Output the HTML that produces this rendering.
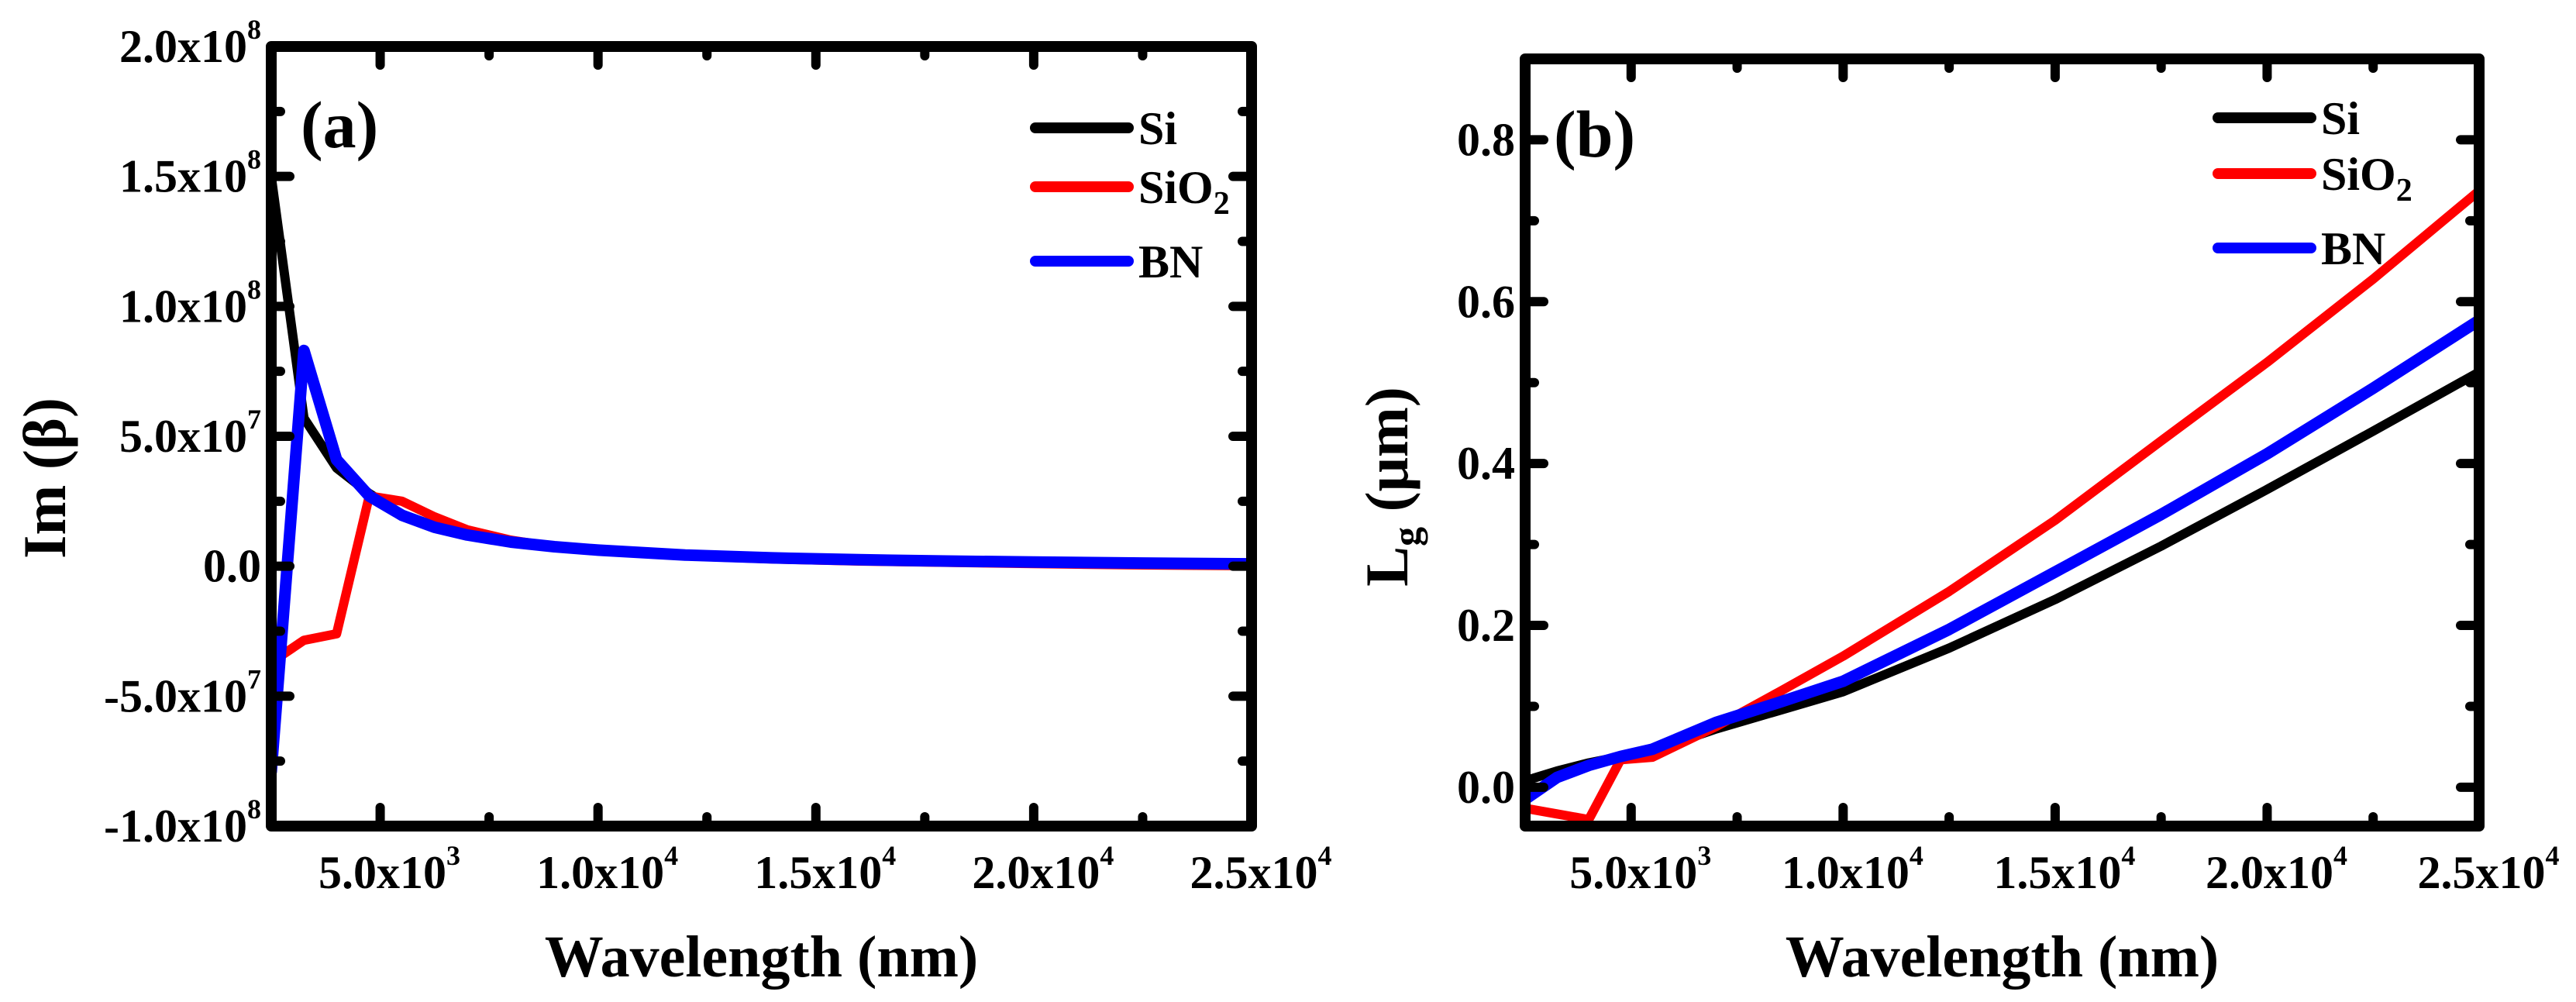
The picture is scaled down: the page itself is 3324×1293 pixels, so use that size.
<!DOCTYPE html>
<html><head><meta charset="utf-8">
<style>
html,body{margin:0;padding:0;background:#fff;}
svg, svg text, svg tspan{font-family:"Liberation Serif","Times New Roman","DejaVu Serif",serif;font-weight:bold;}
</style></head>
<body>
<svg id="chart" width="3324" height="1288" viewBox="0 0 3324 1288" xmlns="http://www.w3.org/2000/svg" font-family="Liberation Serif, serif" font-weight="bold"></svg>
<script>
// ---- Panel (a) data: Im(beta) vs wavelength ----
const aWavelength = [2500,3250,4000,4750,5500,6250,7000,8000,9000,10000,12000,14000,16000,18000,20000,22500,25000];
const aSi   = [150e6,57e6,37.8e6,28e6,20e6,15.5e6,12e6,9.5e6,7.8e6,6.5e6,4.6e6,3.5e6,2.8e6,2.3e6,1.9e6,1.5e6,1.2e6];
const aSiO2 = [-37e6,-28.5e6,-26e6,27e6,25e6,19e6,14e6,10e6,7.5e6,6e6,4e6,2.8e6,2e6,1.5e6,1e6,0.5e6,0.2e6];
const aBN   = [-79e6,83e6,41e6,27e6,19.6e6,15e6,12e6,9.3e6,7.5e6,6.2e6,4.3e6,3.2e6,2.5e6,2.0e6,1.6e6,1.2e6,0.9e6];
const aYTicks = [-1e8,-5e7,0,5e7,1e8,1.5e8,2e8];
const aYTickLabels = [["-1.0x10","8"],["-5.0x10","7"],["0.0",""],["5.0x10","7"],["1.0x10","8"],["1.5x10","8"],["2.0x10","8"]];
// ---- Panel (b) data: Lg vs wavelength ----
const bWavelength = [2500,3250,4000,4750,5500,7000,8500,10000,12500,15000,17500,20000,22500,25000];
const bSi   = [0.008,0.02,0.03,0.038,0.045,0.072,0.095,0.118,0.172,0.232,0.298,0.368,0.44,0.513];
const bSiO2 = [-0.026,-0.033,-0.04,0.034,0.037,0.075,0.118,0.162,0.242,0.33,0.428,0.525,0.628,0.737];
const bBN   = [-0.015,0.012,0.027,0.038,0.047,0.08,0.105,0.131,0.195,0.266,0.337,0.412,0.493,0.577];
const bYTicks = [0,0.2,0.4,0.6,0.8];
const bYTickLabels = ["0.0","0.2","0.4","0.6","0.8"];
// shared x ticks
const xTicks = [5000,10000,15000,20000,25000];
const xTickLabels = [["5.0x10","3"],["1.0x10","4"],["1.5x10","4"],["2.0x10","4"],["2.5x10","4"]];
const seriesNames = ["Si","SiO2","BN"];
const seriesColors = ["#000000","#ff0000","#0000ff"];

const NS="http://www.w3.org/2000/svg";
const svg=document.getElementById('chart');
function mk(tag,attrs,parent){const e=document.createElementNS(NS,tag);for(const k in attrs)e.setAttribute(k,attrs[k]);if(tag==='text'){e.setAttribute('font-family','Liberation Serif, Times New Roman, serif');e.setAttribute('font-weight','bold');}(parent||svg).appendChild(e);return e;}

function panel(cfg){
  const g=mk('g',{});
  
  
  const X=v=>cfg.x0+(v-cfg.xmin)/(cfg.xmax-cfg.xmin)*(cfg.x1-cfg.x0);
  const Y=v=>cfg.y1-(v-cfg.ymin)/(cfg.ymax-cfg.ymin)*(cfg.y1-cfg.y0);
  const cid='clip-'+cfg.name;
  const cp=mk('clipPath',{id:cid},g);
  mk('rect',{x:cfg.x0,y:cfg.y0,width:cfg.x1-cfg.x0,height:cfg.y1-cfg.y0},cp);
  const sg=mk('g',{'clip-path':'url(#'+cid+')'},g);
  cfg.series.forEach((s,i)=>{
    const d=s.map((v,j)=>(j?'L':'M')+X(cfg.xs[j]).toFixed(1)+','+Y(v).toFixed(1)).join(' ');
    const p=mk('path',{d:d,fill:'none',stroke:seriesColors[i],'stroke-width':i==2?15:12,'stroke-linejoin':'round','stroke-linecap':'round'},sg);
    
    
  });
  const tg=mk('g',{stroke:'#000','stroke-width':12,'stroke-linecap':'round'},g);
  for(let v=cfg.xmin;v<=cfg.xmax+1;v+=2500){
    if(v<=cfg.xmin+1)continue;
    const major=(v%5000===0);const L=major?24:12;
    mk('line',{x1:X(v),y1:cfg.y1,x2:X(v),y2:cfg.y1-L},tg);
    mk('line',{x1:X(v),y1:cfg.y0,x2:X(v),y2:cfg.y0+L},tg);
  }
  for(let k=0;;k++){
    const v=cfg.yfirst+k*cfg.ystep/2; if(v>cfg.ymax+1e-9)break; if(v<cfg.ymin)continue;
    const major=(k%2===0);const L=major?24:12;
    mk('line',{x1:cfg.x0,y1:Y(v),x2:cfg.x0+L,y2:Y(v)},tg);
    mk('line',{x1:cfg.x1,y1:Y(v),x2:cfg.x1-L,y2:Y(v)},tg);
  }
  const fr=mk('rect',{x:cfg.x0,y:cfg.y0,width:cfg.x1-cfg.x0,height:cfg.y1-cfg.y0,fill:'none',stroke:'#000','stroke-width':14,'stroke-linejoin':'round'},g);
  
  
  xTicks.forEach((v,i)=>{
    const t=mk('text',{x:X(v)+12,y:1146,'font-size':60,'text-anchor':'middle'},g);
    
    
    t.appendChild(document.createTextNode(xTickLabels[i][0]));
    const s=mk('tspan',{'font-size':36,dy:-30},t);s.textContent=xTickLabels[i][1];
  });
  cfg.yticks.forEach((v,i)=>{
    const lab=cfg.ylabels[i];
    const t=mk('text',{x:cfg.x0-13,y:Y(v)+20,'font-size':60,'text-anchor':'end'},g);
    
    
    if(Array.isArray(lab)){
      t.appendChild(document.createTextNode(lab[0]));
      if(lab[1]){const s=mk('tspan',{'font-size':36,dy:-30},t);s.textContent=lab[1];}
    } else t.textContent=lab;
  });
  const xt=mk('text',{x:(cfg.x0+cfg.x1)/2,y:1260,'font-size':76,'text-anchor':'middle'},g);
  
  
  xt.textContent='Wavelength (nm)';
  const yt=mk('text',{x:0,y:0,'font-size':78,'text-anchor':'middle',transform:'translate('+(cfg.ytx+26)+','+cfg.yty+') rotate(-90)'},g);
  
  
  cfg.ytitle(yt);
  const pl=mk('text',{x:cfg.lx,y:cfg.ly,'font-size':86},g);
  
  
  pl.textContent=cfg.label;
  cfg.legY.forEach((ly,i)=>{
    const lg=mk('g',{},g);
    
    
    mk('line',{x1:cfg.legX,y1:ly,x2:cfg.legX+120,y2:ly,stroke:seriesColors[i],'stroke-width':14,'stroke-linecap':'round'},lg);
    const t=mk('text',{x:cfg.legX+133,y:ly+21,'font-size':60},lg);
    if(i===1){t.appendChild(document.createTextNode('SiO'));const s=mk('tspan',{'font-size':42,dy:14},t);s.textContent='2';}
    else t.textContent=seriesNames[i];
  });
}

panel({name:'panel-a',x0:350,x1:1615,y0:60,y1:1066,xmin:2500,xmax:25000,ymin:-1e8,ymax:2e8,
  yfirst:-1e8,ystep:5e7,yticks:aYTicks,ylabels:aYTickLabels,xs:aWavelength,series:[aSi,aSiO2,aBN],
  ytx:58,yty:617,ytitle:t=>{t.textContent='Im (β)';},
  lx:388,ly:190,label:'(a)',legX:1336,legY:[165,241,337]});

panel({name:'panel-b',x0:1968,x1:3199,y0:76,y1:1066,xmin:2500,xmax:25000,ymin:-0.048,ymax:0.9,
  yfirst:0,ystep:0.2,yticks:bYTicks,ylabels:bYTickLabels,xs:bWavelength,series:[bSi,bSiO2,bBN],
  ytx:1790,yty:628,ytitle:t=>{t.appendChild(document.createTextNode('L'));const s=mk('tspan',{'font-size':50,dy:16},t);s.textContent='g';const s2=mk('tspan',{dy:-16},t);s2.textContent=' (μm)';},
  lx:2005,ly:202,label:'(b)',legX:2862,legY:[152,224,320]});
</script>
</body></html>
